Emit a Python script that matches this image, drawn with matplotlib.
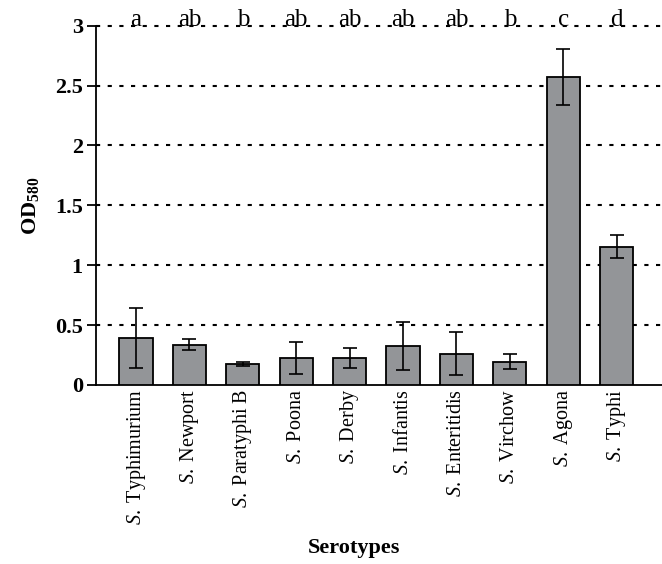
import numpy as np
import matplotlib
matplotlib.use("Agg")
import matplotlib.pyplot as plt

plt.rcParams['font.family'] = ['Liberation Serif', 'DejaVu Serif']
plt.rcParams['mathtext.fontset'] = 'custom'
plt.rcParams['mathtext.rm'] = 'Liberation Serif'
plt.rcParams['mathtext.it'] = 'Liberation Serif:italic'
plt.rcParams['mathtext.bf'] = 'Liberation Serif:bold'

# Biofilm formation per serotype
serotypes = ['Typhimurium', 'Newport', 'Paratyphi B', 'Poona', 'Derby',
             'Infantis', 'Enteritidis', 'Virchow', 'Agona', 'Typhi']
od_mean = [0.39, 0.335, 0.175, 0.225, 0.225, 0.325, 0.26, 0.195, 2.57, 1.155]
od_err = [0.25, 0.045, 0.015, 0.13, 0.08, 0.2, 0.18, 0.06, 0.235, 0.095]
groups = ['a', 'ab', 'b', 'ab', 'ab', 'ab', 'ab', 'b', 'c', 'd']
yticks = [0, 0.5, 1, 1.5, 2, 2.5, 3]

fig = plt.figure(figsize=(6.62, 5.64), dpi=100)
ax = fig.add_axes([0.145, 0.3174, 0.855, 0.637])

x = np.arange(len(serotypes))
ax.bar(x, od_mean, width=0.62, color='#939598', edgecolor='black',
       linewidth=1.3, zorder=3)
ax.errorbar(x, od_mean, yerr=od_err, fmt='none', ecolor='black',
            elinewidth=1.2, capsize=5, capthick=1.2, zorder=4)

# dotted gridlines
for yv in yticks[1:]:
    ax.axhline(yv, color='black', linestyle=(0, (2.0, 3.6)), linewidth=1.5,
               zorder=1, clip_on=False)

# significance letters sitting on the top line
for xi, g in zip(x, groups):
    ax.text(xi, 3.0, g, ha='center', va='baseline', fontsize=18,
            clip_on=False, zorder=5)

ax.set_xlim(-0.75, 9.85)
ax.set_ylim(0, 3)
ax.set_yticks(yticks)
ax.set_yticklabels(['0', '0.5', '1', '1.5', '2', '2.5', '3'],
                   fontsize=16, fontweight='bold')
ax.set_xticks(x)
ax.set_xticklabels([r'$\mathit{S.}\ \mathrm{' + s.replace(' ', r'\ ') + '}$'
                    for s in serotypes], rotation=90, fontsize=14.5, va='top')
ax.tick_params(axis='x', length=0, pad=3)
ax.tick_params(axis='y', direction='out', length=6.5, width=1.3, pad=3)

for side in ['top', 'right']:
    ax.spines[side].set_visible(False)
ax.spines['left'].set_linewidth(1.3)
ax.spines['bottom'].set_linewidth(1.3)

ax.set_ylabel('OD$_{\\mathbf{580}}$', fontsize=16, fontweight='bold',
              labelpad=10)
fig.text(0.535, 0.02, 'Serotypes', ha='center', fontsize=16,
         fontweight='bold')

fig.savefig('out.png', dpi=100)
